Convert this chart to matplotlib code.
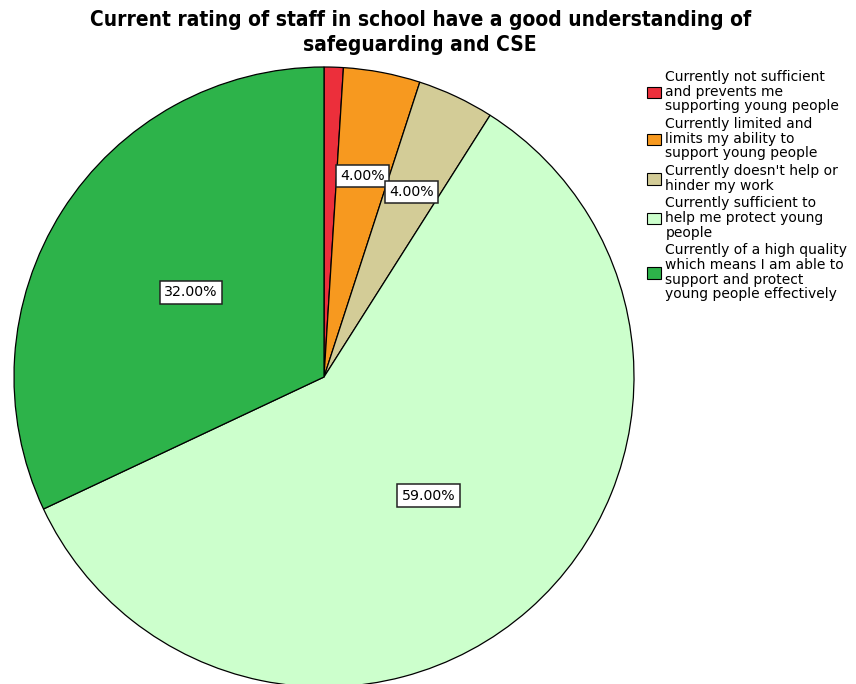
import numpy as np
import matplotlib.pyplot as plt
from matplotlib.patches import Patch

categories = [
    "Currently not sufficient\nand prevents me\nsupporting young people",
    "Currently limited and\nlimits my ability to\nsupport young people",
    "Currently doesn't help or\nhinder my work",
    "Currently sufficient to\nhelp me protect young\npeople",
    "Currently of a high quality\nwhich means I am able to\nsupport and protect\nyoung people effectively",
]
percents = [1.0, 4.0, 4.0, 59.0, 32.0]
show_label = [False, True, True, True, True]
colors = ["#EC2F3B", "#F7991F", "#D3CC97", "#CCFFCC", "#2DB34A"]

title = "Current rating of staff in school have a good understanding of\nsafeguarding and CSE"


def main():
    fig = plt.figure(figsize=(8.56, 6.84), dpi=100)
    ax = fig.add_axes([14 / 856, (684 - 687) / 684, 620 / 856, 620 / 684])

    wedges, _ = ax.pie(percents, colors=colors, startangle=90, counterclock=False,
                       wedgeprops={"edgecolor": "black", "linewidth": 0.9})
    ax.set_xlim(-1, 1)
    ax.set_ylim(-1, 1)
    ax.set_aspect("equal")

    # percentage boxes; thin slices get pushed further out
    for w, p, show in zip(wedges, percents, show_label):
        if not show:
            continue
        mid = np.deg2rad((w.theta1 + w.theta2) / 2)
        r = 0.66 if p < 10 else 0.51
        ax.text(r * np.cos(mid), r * np.sin(mid), "%.2f%%" % p,
                ha="center", va="center", fontsize=10.2,
                bbox=dict(boxstyle="square,pad=0.3", facecolor="white",
                          edgecolor="#222222", linewidth=1.1))

    fig.text(0.491, 0.985, title, ha="center", va="top", fontsize=15,
             fontweight="bold", fontstretch="condensed", linespacing=1.3)

    handles = [Patch(facecolor=c, edgecolor="black", linewidth=0.8) for c in colors]
    leg = fig.legend(handles, categories, loc="upper left", bbox_to_anchor=(0.749, 0.906),
                     frameon=False, fontsize=10, handlelength=1.0, handleheight=0.9,
                     handletextpad=0.35, labelspacing=0.25, borderaxespad=0)
    for t in leg.get_texts():
        t.set_linespacing(1.07)

    fig.savefig("out.png", dpi=100)


if __name__ == "__main__":
    main()
